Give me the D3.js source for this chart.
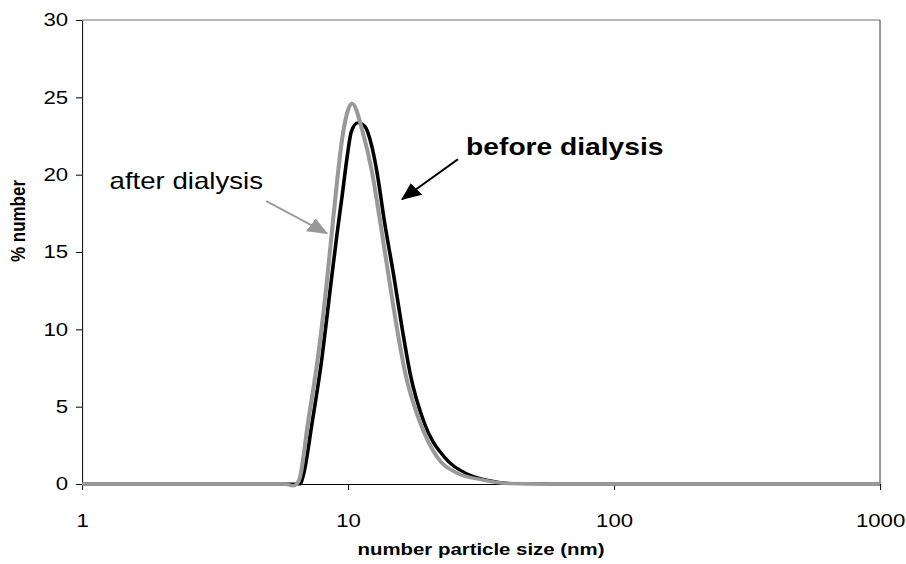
<!DOCTYPE html>
<html>
<head>
<meta charset="utf-8">
<script src="https://cdn.jsdelivr.net/npm/d3@7/dist/d3.min.js"></script>
<style>
  body { margin: 0; background: #fff; }
  svg { display: block; font-family: "Liberation Sans", Arial, sans-serif; }
</style>
</head>
<body>
<svg id="chart"></svg>
<script>
// values: particle size (nm) vs % number
var sizeBefore = [1, 5.5, 6.6, 6.8, 7.32, 7.99, 8.56, 9.1, 9.5, 9.9, 10.3, 10.9, 11.6, 12.3, 12.9, 13.7, 14.85, 16.0, 17.1, 19.4, 23.0, 27.6, 33.2, 42, 60, 1000];
var pctBefore = [0, 0, 0, 0.6, 3.9, 8.2, 12.5, 16.2, 18.6, 21.0, 22.8, 23.35, 23.1, 21.8, 20.0, 17.0, 13.5, 10.0, 7.2, 3.9, 1.75, 0.71, 0.26, 0.03, 0, 0];

var sizeAfter = [1, 5.8, 6.2, 6.45, 6.6, 7.07, 7.71, 8.26, 8.78, 9.58, 10.35, 11.38, 12.3, 13.2, 14.2, 15.3, 16.4, 18.7, 21.6, 25.7, 32.2, 40, 55, 1000];
var pctAfter = [0, 0, -0.12, 0.05, 0.45, 3.94, 8.2, 12.5, 17.0, 22.7, 24.6, 22.7, 20.2, 17.0, 13.5, 10.0, 7.2, 3.94, 1.75, 0.71, 0.26, 0.03, 0, 0];

var xTicks = [1, 10, 100, 1000];
var yTicks = [0, 5, 10, 15, 20, 25, 30];

// annotation labels and arrows, in data units
var labels = [
  { text: "after dialysis", x: 1.27, y: 19.1, bold: false },
  { text: "before dialysis", x: 27.8, y: 21.3, bold: true }
];
var arrows = [
  { from: [4.92, 18.3], to: [8.34, 16.2], color: "#999999" },
  { from: [25.9, 21.0], to: [15.96, 18.4], color: "#000000" }
];

// the original picture is stretched sideways, so draw in a narrower box and stretch it
var W = 906, H = 564, sx = 1.2;
var vw = W / sx;

var svg = d3.select("#chart")
  .attr("width", W)
  .attr("height", H)
  .attr("viewBox", "0 0 " + vw + " " + H)
  .attr("preserveAspectRatio", "none");

var plotLeft = 82 / sx, plotRight = 880 / sx, plotTop = 20, plotBottom = 484;

var x = d3.scaleLog().domain([1, 1000]).range([plotLeft, plotRight]);
var y = d3.scaleLinear().domain([0, 30]).range([plotBottom, plotTop]);

// frame (top and right)
svg.append("line")
  .attr("x1", plotLeft).attr("x2", plotRight).attr("y1", plotTop).attr("y2", plotTop)
  .attr("stroke", "#707070").attr("vector-effect", "non-scaling-stroke");
svg.append("line")
  .attr("x1", plotRight).attr("x2", plotRight).attr("y1", plotTop).attr("y2", plotBottom)
  .attr("stroke", "#333").attr("vector-effect", "non-scaling-stroke");

// axes
var gY = svg.append("g")
  .attr("transform", "translate(" + plotLeft + ",0)")
  .call(d3.axisLeft(y).tickValues(yTicks).tickSize(5).tickSizeOuter(0).tickPadding(6.5));
var gX = svg.append("g")
  .attr("transform", "translate(0," + plotBottom + ")")
  .call(d3.axisBottom(x).tickValues(xTicks).tickFormat(d3.format("d")).tickSize(6).tickSizeOuter(0).tickPadding(24));

[gX, gY].forEach(function (g) {
  g.selectAll("path, line").attr("stroke", "#000").attr("vector-effect", "non-scaling-stroke");
  g.selectAll("text")
    .attr("fill", "#000")
    .style("font-size", "18.5px")
    .style("font-family", "'Liberation Sans', Arial, sans-serif");
});

// series
var line = d3.line()
  .x(function (d) { return x(d[0]); })
  .y(function (d) { return y(d[1]); })
  .curve(d3.curveMonotoneX);

svg.append("path")
  .datum(d3.zip(sizeBefore, pctBefore))
  .attr("d", line)
  .attr("fill", "none")
  .attr("stroke", "#000")
  .attr("stroke-width", 3)
  .attr("stroke-linejoin", "round");

svg.append("path")
  .datum(d3.zip(sizeAfter, pctAfter))
  .attr("d", line)
  .attr("fill", "none")
  .attr("stroke", "#999999")
  .attr("stroke-width", 3.4)
  .attr("stroke-linejoin", "round");

// arrows
var defs = svg.append("defs");
arrows.forEach(function (a, i) {
  defs.append("marker")
    .attr("id", "head" + i)
    .attr("markerUnits", "userSpaceOnUse")
    .attr("viewBox", "0 -8 17 16")
    .attr("markerWidth", 17)
    .attr("markerHeight", 16)
    .attr("refX", 16)
    .attr("refY", 0)
    .attr("orient", "auto")
    .append("path")
    .attr("d", "M0,-7.5L17,0L0,7.5Z")
    .attr("fill", a.color);

  svg.append("line")
    .attr("x1", x(a.from[0])).attr("y1", y(a.from[1]))
    .attr("x2", x(a.to[0])).attr("y2", y(a.to[1]))
    .attr("stroke", a.color)
    .attr("stroke-width", 1.8)
    .attr("marker-end", "url(#head" + i + ")");
});

svg.selectAll(".note")
  .data(labels)
  .enter()
  .append("text")
  .attr("class", "note")
  .attr("x", function (d) { return x(d.x); })
  .attr("y", function (d) { return y(d.y); })
  .style("font-size", function (d) { return d.bold ? "23.5px" : "23px"; })
  .style("font-weight", function (d) { return d.bold ? "bold" : "normal"; })
  .attr("fill", "#000")
  .text(function (d) { return d.text; });

// axis titles
svg.append("text")
  .attr("x", (plotLeft + plotRight) / 2)
  .attr("y", 555)
  .attr("text-anchor", "middle")
  .style("font-size", "17px")
  .style("font-weight", "bold")
  .text("number particle size (nm)");

svg.append("text")
  .attr("transform", "translate(" + (25 / sx) + ",221) rotate(-90)")
  .attr("text-anchor", "middle")
  .style("font-size", "17px")
  .style("font-weight", "bold")
  .text("% number");
</script>
</body>
</html>
